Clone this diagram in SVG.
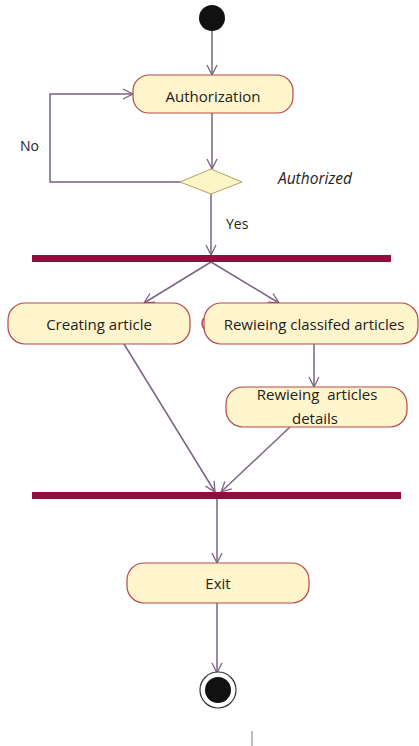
<svg xmlns="http://www.w3.org/2000/svg" width="419" height="746" viewBox="0 0 419 746">
<defs>
<marker id="arr" viewBox="0 0 12 12" refX="11" refY="6" markerWidth="12" markerHeight="12" markerUnits="userSpaceOnUse" orient="auto">
<path d="M1,1 L11,6 L1,11" fill="none" stroke="#7a6480" stroke-width="1.3"/>
</marker>
<style>
.box{fill:#fff5cc;stroke:#b5484a;stroke-width:1.2}
.lbl{font-family:"Open Sans","Liberation Sans",sans-serif;font-size:15px;fill:#222;text-anchor:middle}
.edge{fill:none;stroke:#7a6480;stroke-width:1.5}
.bar{fill:#8c0f3e}
.guard{font-family:"Open Sans","Liberation Sans",sans-serif;font-size:14px;fill:#222}
.guard.it{font-style:italic;font-size:15.5px}
</style>
</defs>
<rect width="419" height="746" fill="#fff"/>
<g id="connectors">
<line class="edge" x1="212" y1="31" x2="212" y2="75" marker-end="url(#arr)"/>
<line class="edge" x1="212" y1="113" x2="212" y2="169" marker-end="url(#arr)"/>
<polyline class="edge" points="180,182 50,182 50,94 133,94" marker-end="url(#arr)"/>
<line class="edge" x1="211" y1="194" x2="211" y2="255" marker-end="url(#arr)"/>
<line class="edge" x1="211" y1="262" x2="144" y2="303" marker-end="url(#arr)"/>
<line class="edge" x1="211" y1="262" x2="279" y2="303" marker-end="url(#arr)"/>
<line class="edge" x1="314" y1="344" x2="314" y2="387" marker-end="url(#arr)"/>
<line class="edge" x1="124" y1="344" x2="215" y2="492" marker-end="url(#arr)"/>
<line class="edge" x1="290" y1="427" x2="221" y2="492" marker-end="url(#arr)"/>
<line class="edge" x1="217" y1="499" x2="217" y2="563" marker-end="url(#arr)"/>
<line class="edge" x1="217" y1="603" x2="217" y2="673" marker-end="url(#arr)"/>
</g>
<g id="start"><circle cx="212" cy="18" r="13" fill="#111"/></g>
<g id="authorization">
<rect class="box" x="133" y="75" width="160" height="38" rx="16"/>
<text class="lbl" x="213" y="102">Authorization</text>
</g>
<g id="decision">
<polygon points="211,169 242,182 211,194 180,182" fill="#fbf5c8" stroke="#b5a060" stroke-width="1"/>
</g>
<text class="guard" x="20" y="151">No</text>
<text class="guard it" x="278" y="184">Authorized</text>
<text class="guard" x="226" y="229">Yes</text>
<g id="fork"><rect class="bar" x="32" y="255" width="359" height="7"/></g>
<g id="creating">
<rect class="box" x="8" y="303" width="182" height="41" rx="17"/>
<text class="lbl" x="99" y="330">Creating article</text>
</g>
<path d="M204,318 Q200,323 204,329" fill="none" stroke="#b5484a" stroke-width="1.5"/>
<g id="reviewing">
<rect class="box" x="204" y="303" width="214" height="41" rx="17"/>
<text class="lbl" x="314" y="330">Rewieing classifed articles</text>
</g>
<g id="details">
<rect class="box" x="226" y="387" width="181" height="40" rx="17"/>
<text class="lbl" x="317" y="400" xml:space="preserve">Rewieing  articles</text>
<text class="lbl" x="315" y="424">details</text>
</g>
<g id="join"><rect class="bar" x="32" y="492" width="369" height="7"/></g>
<g id="exit">
<rect class="box" x="127" y="563" width="182" height="40" rx="17"/>
<text class="lbl" x="218" y="589">Exit</text>
</g>
<g id="end">
<circle cx="218" cy="690" r="18" fill="#fff" stroke="#333" stroke-width="1.2"/>
<circle cx="218" cy="690" r="13" fill="#111"/>
</g>
<line x1="252" y1="731" x2="252" y2="746" stroke="#8a96a6" stroke-width="1.2"/>
</svg>
